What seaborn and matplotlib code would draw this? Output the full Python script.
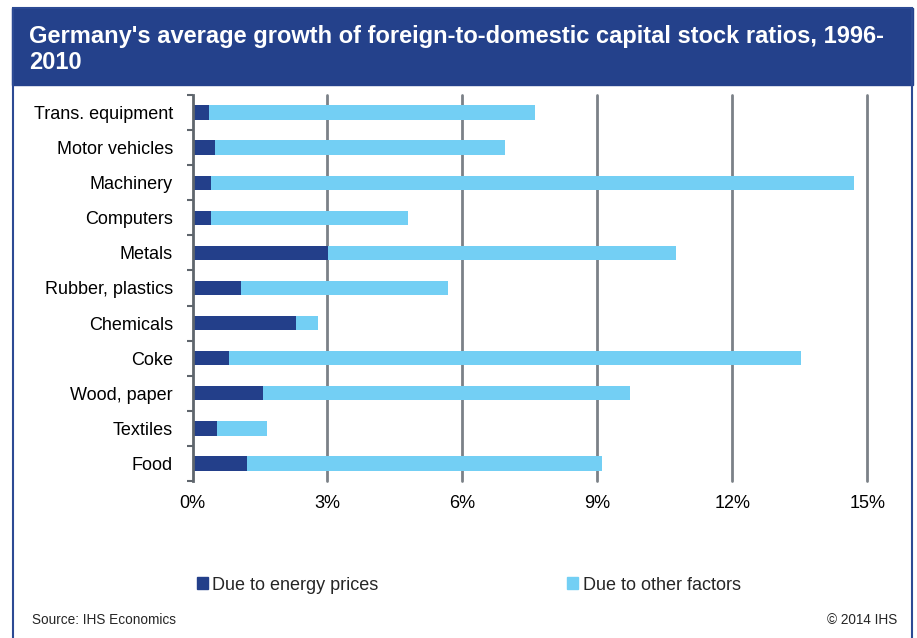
import numpy as np
import pandas as pd
import matplotlib.pyplot as plt
import matplotlib.patches as mpatches
import seaborn as sns

sns.set_theme(style="white")
plt.rcParams['font.family'] = ['Liberation Sans', 'DejaVu Sans']

# data (% per year)
sectors = ['Trans. equipment', 'Motor vehicles', 'Machinery', 'Computers', 'Metals',
           'Rubber, plastics', 'Chemicals', 'Coke', 'Wood, paper', 'Textiles', 'Food']
energy = [0.37, 0.50, 0.41, 0.41, 3.01, 1.08, 2.31, 0.81, 1.57, 0.54, 1.21]
other = [7.24, 6.45, 14.30, 4.38, 7.73, 4.59, 0.49, 12.71, 8.16, 1.12, 7.90]
xticks = [0, 3, 6, 9, 12, 15]

df = pd.DataFrame({'sector': sectors, 'energy': energy, 'other': other})
df['total'] = df['energy'] + df['other']

dark = '#233f8a'
light = '#73cff4'
grid_col = '#7b8187'

W, H = 917, 638
fig = plt.figure(figsize=(W / 100, H / 100), dpi=100)
ax = fig.add_axes([192.5 / W, 1 - 481 / H, (867.3 - 192.5) / W, (481 - 95) / H])

sns.barplot(data=df, x='total', y='sector', color=light, width=0.41,
            saturation=1, linewidth=0, ax=ax, zorder=3)
sns.barplot(data=df, x='energy', y='sector', color=dark, width=0.41,
            saturation=1, linewidth=0, ax=ax, zorder=4)

ax.set_xlim(0, 15)
ax.set_ylim(len(sectors) - 0.5, -0.5)
ax.set_xticks(xticks)
ax.set_xticklabels([f'{v}%' for v in xticks])
ax.set_xlabel('')
ax.set_ylabel('')
for v in xticks[1:]:
    ax.axvline(v, color=grid_col, lw=2, zorder=1, clip_on=False)

for s in ['top', 'right', 'bottom']:
    ax.spines[s].set_visible(False)
ax.spines['left'].set_color('#5f666d')
ax.spines['left'].set_linewidth(2)
ax.spines['left'].set_zorder(5)

ax.set_yticks(np.arange(-0.5, len(sectors), 1), minor=True)
ax.tick_params(axis='y', which='minor', length=4.5, width=1.5, color='#5f666d', left=True)
ax.tick_params(axis='y', which='major', length=0, pad=14, labelsize=13, labelcolor='black')
ax.tick_params(axis='x', length=0, pad=10, labelsize=13, labelcolor='black')

# title band and frame
fig.patches.append(mpatches.Rectangle((12 / W, 1 - 85 / H), 901 / W, 77 / H,
                                      transform=fig.transFigure, color='#24418b', zorder=0))
fig.patches.append(mpatches.Rectangle((13 / W, -0.01), 899 / W, 1 - 8 / H + 0.01,
                                      transform=fig.transFigure, fill=False,
                                      edgecolor='#2c4a94', lw=1.5, zorder=0))
fig.text(29 / W, 1 - 49.5 / H, "Germany's average growth of foreign-to-domestic capital stock ratios, 1996-\n2010",
         color='white', fontsize=17, fontweight='bold', va='center', ha='left', linespacing=1.12)

handles = [mpatches.Patch(color=dark, label='Due to energy prices'),
           mpatches.Patch(color=light, label='Due to other factors')]
fig.legend(handles=handles, loc='center left', bbox_to_anchor=(197 / W, 1 - 585 / H),
           ncol=2, frameon=False, fontsize=13, handlelength=0.6, handleheight=0.6,
           handletextpad=0.25, columnspacing=10.45, borderpad=0, borderaxespad=0)

fig.text(32 / W, 1 - 620 / H, 'Source: IHS Economics', fontsize=9.8, va='center', ha='left')
fig.text(897 / W, 1 - 620 / H, '\u00a9 2014 IHS', fontsize=9.8, va='center', ha='right')

fig.savefig('out.png', dpi=100)
